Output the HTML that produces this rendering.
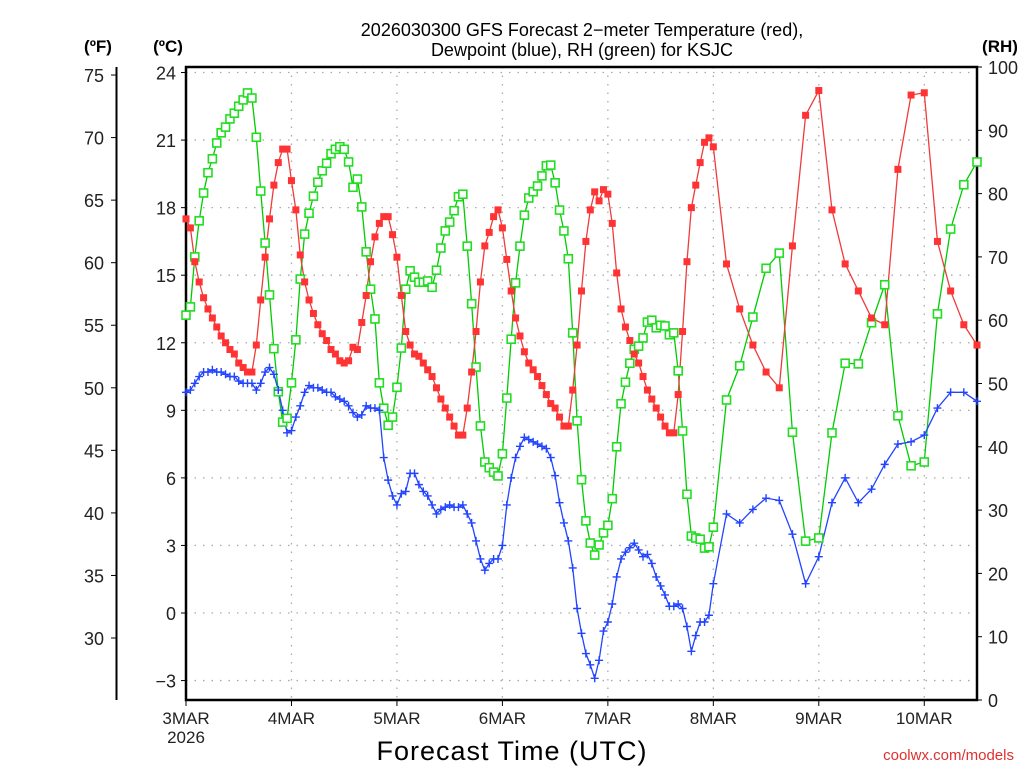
<!DOCTYPE html>
<html><head><meta charset="utf-8">
<style>
html,body{margin:0;padding:0;background:#fff;}
svg{display:block;}
text{font-family:"Liberation Sans",sans-serif;}
</style></head>
<body>
<svg id="chart" width="1024" height="768" viewBox="0 0 1024 768" xmlns="http://www.w3.org/2000/svg">
<rect width="1024" height="768" fill="#fff"/>
<text x="582" y="36" font-size="18" text-anchor="middle" fill="#000">2026030300 GFS Forecast 2−meter Temperature (red),</text>
<text x="582" y="56" font-size="18" text-anchor="middle" fill="#000">Dewpoint (blue), RH (green) for KSJC</text>
<text x="98" y="52" font-size="17" font-weight="bold" text-anchor="middle">(ºF)</text>
<text x="168" y="52" font-size="17" font-weight="bold" text-anchor="middle">(ºC)</text>
<text x="1000" y="52" font-size="17" font-weight="bold" text-anchor="middle">(RH)</text>
<text x="512" y="760" font-size="27" text-anchor="middle" letter-spacing="1">Forecast Time (UTC)</text>
<text x="1014" y="760" font-size="15" text-anchor="end" fill="#e03030" font-family="Liberation Mono, monospace">coolwx.com/models</text>
<g id="grid"></g><g id="axes"></g><g id="series"></g>
</svg>
<script>
const hours=[0,1,2,3,4,5,6,7,8,9,10,11,12,13,14,15,16,17,18,19,20,21,22,23,24,25,26,27,28,29,30,31,32,33,34,35,36,37,38,39,40,41,42,43,44,45,46,47,48,49,50,51,52,53,54,55,56,57,58,59,60,61,62,63,64,65,66,67,68,69,70,71,72,73,74,75,76,77,78,79,80,81,82,83,84,85,86,87,88,89,90,91,92,93,94,95,96,97,98,99,100,101,102,103,104,105,106,107,108,109,110,111,112,113,114,115,116,117,118,119,120,123,126,129,132,135,138,141,144,147,150,153,156,159,162,165,168,171,174,177,180];
const tempC=[17.5,17.1,15.6,14.7,14.0,13.5,13.1,12.7,12.3,12.0,11.7,11.5,11.1,10.9,10.7,10.7,11.9,13.9,15.8,17.5,19.0,20.0,20.6,20.6,19.2,17.9,15.9,14.7,13.9,13.3,12.8,12.4,12.1,11.7,11.5,11.2,11.1,11.2,11.8,11.7,12.9,14.1,15.6,16.7,17.3,17.6,17.6,16.8,15.8,14.1,12.5,11.9,11.5,11.4,11.1,10.8,10.5,10.0,9.5,9.1,8.7,8.3,7.9,7.9,9.1,10.7,12.5,14.7,16.3,16.9,17.6,17.9,17.1,15.7,14.3,13.1,12.3,11.6,11.1,10.8,10.5,10.1,9.7,9.3,9.1,8.7,8.3,8.3,9.9,11.9,14.3,16.5,17.9,18.7,18.3,18.8,18.6,17.3,15.1,13.5,12.7,12.1,11.5,11.1,10.5,9.9,9.5,9.1,8.7,8.3,8.0,8.0,9.7,12.5,15.6,18.0,19.0,20.0,20.9,21.1,20.7,15.5,13.5,11.9,10.7,10.0,16.3,22.1,23.2,17.9,15.5,14.3,13.1,12.8,19.7,23.0,23.1,16.5,14.3,12.8,11.9];
const dewC=[9.8,9.9,10.2,10.5,10.7,10.7,10.8,10.7,10.7,10.6,10.5,10.5,10.3,10.2,10.2,10.2,9.9,10.2,10.7,10.9,10.6,9.9,9.0,8.0,8.1,8.7,9.2,9.8,10.1,10.0,10.0,9.9,9.8,9.8,9.6,9.5,9.4,9.2,8.9,8.7,8.8,9.2,9.1,9.1,9.0,6.9,5.9,5.2,4.8,5.3,5.4,6.2,6.2,5.7,5.4,5.2,4.8,4.4,4.6,4.7,4.8,4.7,4.7,4.8,4.4,4.0,3.2,2.4,1.9,2.2,2.4,2.4,3.0,4.8,6.0,6.9,7.4,7.8,7.7,7.6,7.5,7.4,7.3,6.9,6.1,4.9,4.0,3.2,2.0,0.2,-0.9,-1.8,-2.3,-2.9,-2.1,-0.8,-0.4,0.4,1.6,2.4,2.7,2.9,3.1,2.8,2.5,2.6,2.2,1.6,1.2,0.8,0.3,0.3,0.4,0.2,-0.6,-1.7,-1.0,-0.4,-0.4,-0.1,1.3,4.4,4.0,4.6,5.1,5.0,3.5,1.3,2.5,4.9,6.0,4.9,5.5,6.6,7.5,7.6,7.9,9.1,9.8,9.8,9.4];
const rh=[60.8,62.1,70.0,75.7,80.1,83.3,85.5,88.0,89.6,90.5,91.8,92.7,93.8,94.8,95.9,95.1,88.9,80.4,72.2,64.0,55.5,48.7,43.9,44.5,50.1,56.9,66.5,73.6,76.9,79.6,81.8,83.6,84.8,86.3,87.0,87.4,87.0,85.0,81.0,82.3,77.9,70.8,64.9,60.2,50.1,46.1,43.4,44.7,49.4,55.6,64.9,67.8,66.8,66.0,66.0,66.2,65.2,67.9,71.4,74.1,75.5,77.3,79.5,79.9,71.7,62.6,52.6,43.3,37.6,36.7,36.0,35.4,38.9,47.7,57.0,65.9,71.7,76.6,79.3,80.3,81.2,82.8,84.4,84.5,81.7,77.4,74.1,69.7,58.0,44.1,34.8,28.3,24.8,22.9,24.5,26.4,27.6,31.8,40.0,46.8,50.2,53.2,55.4,55.9,57.2,59.7,60.0,58.8,59.2,59.1,57.7,58.0,52.0,42.5,32.5,25.9,25.6,25.4,24.0,24.2,27.3,47.4,52.8,60.5,68.2,70.6,42.3,25.1,25.6,42.2,53.2,53.1,59.6,65.6,44.9,37.0,37.6,61.0,74.4,81.4,85.0];
const dayLabels=["3MAR","4MAR","5MAR","6MAR","7MAR","8MAR","9MAR","10MAR"];
const cTicks=[24,21,18,15,12,9,6,3,0,-3];
const fTicks=[75,70,65,60,55,50,45,40,35,30];
const rhTicks=[0,10,20,30,40,50,60,70,80,90,100];

const NS="http://www.w3.org/2000/svg";
const X0=186,X1=977,Y0=67,Y1=700,HMAX=180;
const xS=h=>X0+h*(X1-X0)/HMAX;
const yC=c=>613-c*22.52;
const yF=f=>yC((f-32)*5/9);
const yR=r=>Y1-r*(Y1-Y0)/100;
function mk(tag,attrs,parent){const e=document.createElementNS(NS,tag);for(const k in attrs)e.setAttribute(k,attrs[k]);parent.appendChild(e);return e;}
const grid=document.getElementById('grid'),axes=document.getElementById('axes'),ser=document.getElementById('series');

cTicks.forEach(c=>{
  const y=yC(c);
  const g=mk('line',{x1:X0,x2:X1,y1:y,y2:y,stroke:'#aaa','stroke-width':1.3,'stroke-dasharray':'1.5 7'},grid);
  
  
  mk('line',{x1:X0-5,x2:X0,y1:y,y2:y,stroke:'#000','stroke-width':1},axes);
  const t=mk('text',{x:X0-10,y:y+7,'font-size':18,'text-anchor':'end',fill:'#222'},axes);
  t.textContent=c<0?'−'+Math.abs(c):String(c);
  
  
});
dayLabels.forEach((d,i)=>{
  const x=xS(i*24);
  if(i>0){const g=mk('line',{x1:x,x2:x,y1:Y0,y2:Y1,stroke:'#aaa','stroke-width':1.3,'stroke-dasharray':'1.5 7'},grid);
  
  }
  mk('line',{x1:x,x2:x,y1:Y1,y2:Y1+6,stroke:'#000','stroke-width':1},axes);
  const t=mk('text',{x:x,y:724,'font-size':17,'text-anchor':'middle',fill:'#222'},axes);
  t.textContent=d;
  
  
});
const yr=mk('text',{x:xS(0),y:743,'font-size':17,'text-anchor':'middle',fill:'#222'},axes);
yr.textContent='2026';


fTicks.forEach(f=>{
  const y=yF(f);
  mk('line',{x1:111,x2:116,y1:y,y2:y,stroke:'#000','stroke-width':1},axes);
  const t=mk('text',{x:104,y:y+7,'font-size':18,'text-anchor':'end',fill:'#222'},axes);
  t.textContent=String(f);
  
  
});
rhTicks.forEach(r=>{
  const y=yR(r);
  mk('line',{x1:X1,x2:X1+5,y1:y,y2:y,stroke:'#000','stroke-width':1},axes);
  const t=mk('text',{x:988,y:y+7,'font-size':18,'text-anchor':'start',fill:'#222'},axes);
  t.textContent=String(r);
  
  
});
const fAx=mk('line',{x1:116.5,x2:116.5,y1:Y0,y2:Y1,stroke:'#000','stroke-width':2},axes);


const fr=mk('rect',{x:X0,y:Y0,width:X1-X0,height:Y1-Y0,fill:'none',stroke:'#000','stroke-width':2.5},axes);



function line(vals,yf,color,name){
  const p=mk('polyline',{points:hours.map((h,i)=>xS(h)+','+yf(vals[i])).join(' '),fill:'none',stroke:color,'stroke-width':1.3},ser);
  
  
}
line(rh,yR,'#00cc00','rh-line');
line(dewC,yC,'#2244ff','dewpoint-line');
line(tempC,yC,'#ee3b3b','temperature-line');
hours.forEach((h,i)=>{
  const x=xS(h),y=yR(rh[i]);
  const m=mk('rect',{x:x-4,y:y-4,width:8,height:8,fill:'#fff',stroke:'#22dd22','stroke-width':1.6},ser);
  
  
});
hours.forEach((h,i)=>{
  const x=xS(h),y=yC(dewC[i]);
  const m=mk('path',{d:`M${x-4},${y}H${x+4}M${x},${y-4}V${y+4}`,stroke:'#2244ff','stroke-width':1.4,fill:'none'},ser);
  
  
});
hours.forEach((h,i)=>{
  const x=xS(h),y=yC(tempC[i]);
  const m=mk('rect',{x:x-3.5,y:y-3.5,width:7,height:7,fill:'#f33'},ser);
  
  
});
</script>
</body></html>
